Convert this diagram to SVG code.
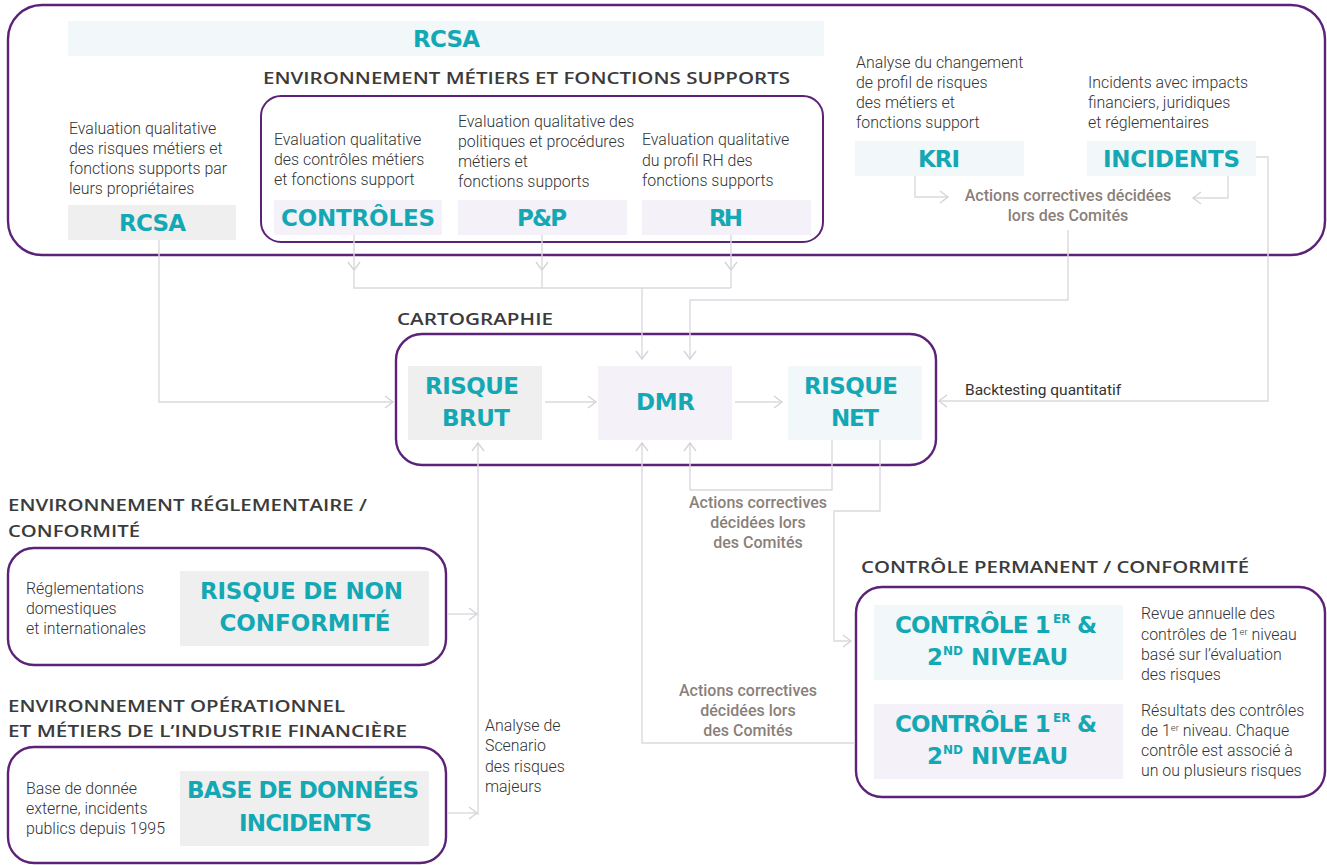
<svg xmlns="http://www.w3.org/2000/svg" width="1327" height="865" viewBox="0 0 1327 865">
<defs>
<style>
.frame{fill:#fff;stroke:#5b2278;stroke-width:2.4}
.inner{fill:none;stroke:#5b2278;stroke-width:2}
.g{fill:#efefef}
.b{fill:#f2f7f9}
.l{fill:#f4f2f8}
.teal{font-family:"DejaVu Sans",sans-serif;font-weight:700;font-size:23px;fill:#13a8b4}
.hd{font-family:"Open Sans",sans-serif;font-weight:600;font-size:17px;fill:#3b3b3b}
.body{font-family:Roboto,sans-serif;font-weight:300;font-size:15.9px;fill:#333}
.act{font-family:Roboto,sans-serif;font-weight:500;font-size:16px;fill:#8b7f7a;text-anchor:middle}
.c{fill:none;stroke:#dadadf;stroke-width:1.4}
</style>
<marker id="ah" markerWidth="13" markerHeight="14" refX="11" refY="7" orient="auto" markerUnits="userSpaceOnUse">
<path d="M3,1 L11,7 L3,13" fill="none" stroke="#d4d4da" stroke-width="1.4"/>
</marker>
</defs>
<rect width="1327" height="865" fill="#fff"/>

<!-- containers -->
<g id="top-frame">
<rect class="frame" x="8" y="5" width="1317" height="250" rx="34"/>
<rect class="b" x="68" y="21" width="756" height="35"/>
<text class="teal" x="413" y="47" textLength="67">RCSA</text>
<text class="hd" x="263" y="84" textLength="527" lengthAdjust="spacingAndGlyphs">ENVIRONNEMENT MÉTIERS ET FONCTIONS SUPPORTS</text>
<rect class="inner" x="261" y="96" width="562" height="146" rx="20"/>
</g>

<g id="cartographie-frame">
<text class="hd" x="397" y="325" textLength="156" lengthAdjust="spacingAndGlyphs">CARTOGRAPHIE</text>
<rect class="frame" x="396" y="334" width="540" height="131" rx="26"/>
</g>

<g id="reglementaire-frame">
<text class="hd" x="8" y="511" textLength="359" lengthAdjust="spacingAndGlyphs">ENVIRONNEMENT RÉGLEMENTAIRE /</text>
<text class="hd" x="8" y="537" textLength="132" lengthAdjust="spacingAndGlyphs">CONFORMITÉ</text>
<rect class="frame" x="8" y="548" width="438" height="117" rx="26"/>
</g>

<g id="operationnel-frame">
<text class="hd" x="8" y="712" textLength="337" lengthAdjust="spacingAndGlyphs">ENVIRONNEMENT OPÉRATIONNEL</text>
<text class="hd" x="8" y="737" textLength="399" lengthAdjust="spacingAndGlyphs">ET MÉTIERS DE L’INDUSTRIE FINANCIÈRE</text>
<rect class="frame" x="8" y="747" width="438" height="116" rx="26"/>
</g>

<g id="controle-frame">
<text class="hd" x="861" y="573" textLength="388" lengthAdjust="spacingAndGlyphs">CONTRÔLE PERMANENT / CONFORMITÉ</text>
<rect class="frame" x="856" y="587" width="469" height="210" rx="26"/>
</g>

<!-- connectors -->
<g id="connectors">
<path class="c" d="M159,240 V402 H393" marker-end="url(#ah)"/>
<path class="c" d="M354,235 V270" marker-end="url(#ah)"/>
<path class="c" d="M354,270 V288 H731"/>
<path class="c" d="M542,235 V270" marker-end="url(#ah)"/>
<path class="c" d="M542,270 V288"/>
<path class="c" d="M731,235 V270" marker-end="url(#ah)"/>
<path class="c" d="M731,270 V288"/>
<path class="c" d="M642,288 V359" marker-end="url(#ah)"/>
<path class="c" d="M915,176 V197 H948" marker-end="url(#ah)"/>
<path class="c" d="M1228,176 V198 H1193" marker-end="url(#ah)"/>
<path class="c" d="M1068,230 V300 H690 V359" marker-end="url(#ah)"/>
<path class="c" d="M1256,157 H1268 V401 H939" marker-end="url(#ah)"/>
<path class="c" d="M545,402 H596" marker-end="url(#ah)"/>
<path class="c" d="M735,402 H782" marker-end="url(#ah)"/>
<path class="c" d="M832,440 V490 H690 V443" marker-end="url(#ah)"/>
<path class="c" d="M855,743 H642 V443" marker-end="url(#ah)"/>
<path class="c" d="M880,440 V511 H834 V641 H851" marker-end="url(#ah)"/>
<path class="c" d="M478,815 V443" marker-end="url(#ah)"/>
<path class="c" d="M448,614 H477" marker-end="url(#ah)"/>
<path class="c" d="M448,813 H477" marker-end="url(#ah)"/>
</g>

<!-- connector labels -->
<g id="labels">
<text class="act" x="1068" y="201">Actions correctives décidées</text>
<text class="act" x="1068" y="221">lors des Comités</text>
<text class="body" x="965" y="395" style="font-weight:400;font-size:15.5px">Backtesting quantitatif</text>
<text class="act" x="758" y="508">Actions correctives</text>
<text class="act" x="758" y="528">décidées lors</text>
<text class="act" x="758" y="548">des Comités</text>
<text class="act" x="748" y="696">Actions correctives</text>
<text class="act" x="748" y="716">décidées lors</text>
<text class="act" x="748" y="736">des Comités</text>
<text class="body" x="485" y="731">Analyse de</text>
<text class="body" x="485" y="751">Scenario</text>
<text class="body" x="485" y="772">des risques</text>
<text class="body" x="485" y="792">majeurs</text>
</g>

<!-- nodes -->
<g id="node-rcsa">
<text class="body" x="69" y="134">Evaluation qualitative</text>
<text class="body" x="69" y="154">des risques métiers et</text>
<text class="body" x="69" y="174">fonctions supports par</text>
<text class="body" x="69" y="194">leurs propriétaires</text>
<rect class="g" x="68" y="205" width="168" height="35"/>
<text class="teal" x="119" y="231" textLength="67">RCSA</text>
</g>

<g id="node-controles">
<text class="body" x="274" y="145">Evaluation qualitative</text>
<text class="body" x="274" y="165">des contrôles métiers</text>
<text class="body" x="274" y="185">et fonctions support</text>
<rect class="l" x="274" y="200" width="168" height="35"/>
<text class="teal" x="281" y="226" textLength="154">CONTRÔLES</text>
</g>

<g id="node-pp">
<text class="body" x="458" y="127">Evaluation qualitative des</text>
<text class="body" x="458" y="147">politiques et procédures</text>
<text class="body" x="458" y="167">métiers et</text>
<text class="body" x="458" y="187">fonctions supports</text>
<rect class="l" x="458" y="200" width="169" height="35"/>
<text class="teal" x="517" y="226" textLength="50">P&amp;P</text>
</g>

<g id="node-rh">
<text class="body" x="642" y="145">Evaluation qualitative</text>
<text class="body" x="642" y="166">du profil RH des</text>
<text class="body" x="642" y="186">fonctions supports</text>
<rect class="l" x="642" y="200" width="169" height="35"/>
<text class="teal" x="709" y="226" textLength="34">RH</text>
</g>

<g id="node-kri">
<text class="body" x="856" y="68">Analyse du changement</text>
<text class="body" x="856" y="88">de profil de risques</text>
<text class="body" x="856" y="108">des métiers et</text>
<text class="body" x="856" y="128">fonctions support</text>
<rect class="b" x="855" y="141" width="169" height="35"/>
<text class="teal" x="918" y="167" textLength="42">KRI</text>
</g>

<g id="node-incidents">
<text class="body" x="1088" y="88">Incidents avec impacts</text>
<text class="body" x="1088" y="108">financiers, juridiques</text>
<text class="body" x="1088" y="128">et réglementaires</text>
<rect class="b" x="1087" y="141" width="169" height="35"/>
<text class="teal" x="1103" y="167" textLength="137">INCIDENTS</text>
</g>

<g id="node-risque-brut">
<rect class="g" x="408" y="366" width="134" height="74"/>
<text class="teal" x="425" y="394" textLength="94">RISQUE</text>
<text class="teal" x="442" y="426" textLength="68">BRUT</text>
</g>

<g id="node-dmr">
<rect class="l" x="598" y="366" width="134" height="74"/>
<text class="teal" x="636" y="410" textLength="59">DMR</text>
</g>

<g id="node-risque-net">
<rect class="b" x="788" y="366" width="134" height="74"/>
<text class="teal" x="804" y="394" textLength="94">RISQUE</text>
<text class="teal" x="831" y="426" textLength="48">NET</text>
</g>

<g id="node-non-conformite">
<text class="body" x="26" y="594">Réglementations</text>
<text class="body" x="26" y="614">domestiques</text>
<text class="body" x="26" y="634">et internationales</text>
<rect class="g" x="180" y="571" width="249" height="75"/>
<text class="teal" x="200" y="599" textLength="203">RISQUE DE NON</text>
<text class="teal" x="219.5" y="631" textLength="171">CONFORMITÉ</text>
</g>

<g id="node-base-donnees">
<text class="body" x="26" y="794">Base de donnée</text>
<text class="body" x="26" y="814">externe, incidents</text>
<text class="body" x="26" y="834">publics depuis 1995</text>
<rect class="g" x="180" y="771" width="249" height="75"/>
<text class="teal" x="187" y="798" textLength="232">BASE DE DONNÉES</text>
<text class="teal" x="239" y="831" textLength="133">INCIDENTS</text>
</g>

<g id="node-controle-1">
<rect class="b" x="874" y="605" width="249" height="75"/>
<text class="teal"><tspan x="895" y="633" letter-spacing="-0.8">CONTRÔLE 1</tspan><tspan x="1053" y="623" font-size="12">ER </tspan><tspan x="1077" y="633">&amp;</tspan></text>
<text class="teal"><tspan x="927" y="665">2</tspan><tspan x="943" y="655" font-size="12">ND </tspan><tspan x="971" y="665">NIVEAU</tspan></text>
<text class="body" x="1141" y="619">Revue annuelle des</text>
<text class="body" x="1141" y="640">contrôles de 1<tspan dy="-5" font-size="9.5">er</tspan><tspan dy="5"> niveau</tspan></text>
<text class="body" x="1141" y="660">basé sur l’évaluation</text>
<text class="body" x="1141" y="680">des risques</text>
</g>

<g id="node-controle-2">
<rect class="l" x="874" y="704" width="249" height="75"/>
<text class="teal"><tspan x="895" y="732" letter-spacing="-0.8">CONTRÔLE 1</tspan><tspan x="1053" y="722" font-size="12">ER </tspan><tspan x="1077" y="732">&amp;</tspan></text>
<text class="teal"><tspan x="927" y="764">2</tspan><tspan x="943" y="754" font-size="12">ND </tspan><tspan x="971" y="764">NIVEAU</tspan></text>
<text class="body" x="1141" y="716">Résultats des contrôles</text>
<text class="body" x="1141" y="736">de 1<tspan dy="-5" font-size="9.5">er</tspan><tspan dy="5"> niveau. Chaque</tspan></text>
<text class="body" x="1141" y="756">contrôle est associé à</text>
<text class="body" x="1141" y="776">un ou plusieurs risques</text>
</g>
</svg>
